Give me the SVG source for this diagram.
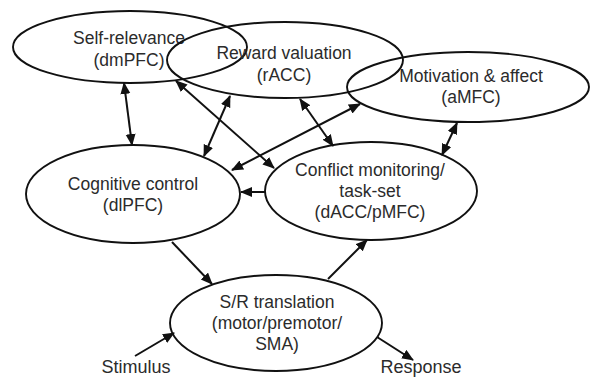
<svg xmlns="http://www.w3.org/2000/svg" width="595" height="377" viewBox="0 0 595 377">
<style>
.node ellipse{fill:none;stroke:#111;stroke-width:1.9}
text{font-family:"Liberation Sans",Arial,sans-serif;font-size:17.5px;fill:#2b2b2b;text-anchor:middle}
.term{font-size:18px}
.conn line{stroke:#111;stroke-width:2}
.uni{marker-end:url(#ah)}
.bi{marker-end:url(#ah);marker-start:url(#ah)}
</style>
<defs>
<marker id="ah" markerUnits="userSpaceOnUse" markerWidth="13" markerHeight="11" refX="11" refY="5" orient="auto-start-reverse" viewBox="0 0 13 11">
<path d="M0,0 L12,5 L0,10 z" fill="#111"/>
</marker>
</defs>
<rect width="595" height="377" fill="#fff"/>
<g id="self-relevance" class="node">
<ellipse cx="130" cy="47" rx="117" ry="36"/>
<text x="129" y="44">Self-relevance</text>
<text x="129" y="66">(dmPFC)</text>
</g>
<g id="reward-valuation" class="node">
<ellipse cx="285" cy="60" rx="118" ry="38"/>
<text x="284" y="59">Reward valuation</text>
<text x="284" y="81">(rACC)</text>
</g>
<g id="motivation-affect" class="node">
<ellipse cx="468" cy="87" rx="121" ry="35"/>
<text x="471" y="82">Motivation &amp; affect</text>
<text x="471" y="103">(aMFC)</text>
</g>
<g id="cognitive-control" class="node">
<ellipse cx="133" cy="194" rx="107" ry="49"/>
<text x="133" y="190">Cognitive control</text>
<text x="133" y="211">(dlPFC)</text>
</g>
<g id="conflict-monitoring" class="node">
<ellipse cx="371" cy="191" rx="106" ry="49"/>
<text x="370" y="176">Conflict monitoring/</text>
<text x="370" y="197">task-set</text>
<text x="370" y="218">(dACC/pMFC)</text>
</g>
<g id="sr-translation" class="node">
<ellipse cx="276" cy="323" rx="106" ry="48"/>
<text x="277" y="308">S/R translation</text>
<text x="277" y="329">(motor/premotor/</text>
<text x="277" y="350">SMA)</text>
</g>
<g id="stimulus" class="node">
<text class="term" x="136" y="373">Stimulus</text>
</g>
<g id="response" class="node">
<text class="term" x="421" y="373">Response</text>
</g>
<g id="connectors" class="conn">
<line class="uni" x1="135" y1="356" x2="174" y2="333"/>
<line class="uni" x1="377" y1="337" x2="413" y2="360"/>
<line class="uni" x1="172" y1="242" x2="212" y2="284"/>
<line class="uni" x1="328" y1="279" x2="367" y2="240"/>
<line class="uni" x1="265" y1="192" x2="241" y2="192"/>
<line class="bi" x1="124" y1="83" x2="132" y2="145"/>
<line class="bi" x1="176" y1="81" x2="274" y2="168"/>
<line class="bi" x1="230" y1="96" x2="204" y2="156"/>
<line class="bi" x1="360" y1="104" x2="232" y2="170"/>
<line class="bi" x1="300" y1="99" x2="333" y2="146"/>
<line class="bi" x1="457" y1="123" x2="442" y2="155"/>
</g>
</svg>
